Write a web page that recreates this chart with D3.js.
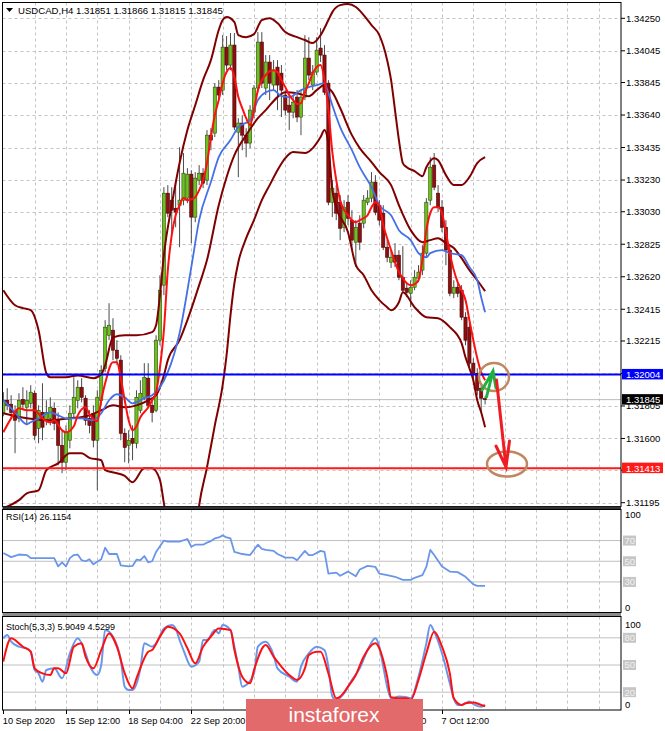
<!DOCTYPE html>
<html><head><meta charset="utf-8">
<script src="https://cdn.jsdelivr.net/npm/d3@7"></script>
<style>body{margin:0;background:#fff;}svg{display:block;}text{font-family:'Liberation Sans',Arial,sans-serif;}</style>
</head><body><svg id="c" width="665" height="731"></svg>
<script>
// ---------- DATA ----------
const symbolTitle = "USDCAD,H4";
const lastOHLC = [1.31851, 1.31866, 1.31815, 1.31845];
const openP = [1.31765,1.31841,1.31816,1.31772,1.31727,1.31847,1.31797,1.31822,1.31885,1.31664,1.31765,1.31715,1.31727,1.31790,1.31715,1.31557,1.31450,1.31589,1.31759,1.31841,1.31923,1.31854,1.31727,1.31759,1.31589,1.31841,1.32043,1.32251,1.32283,1.32157,1.32094,1.31633,1.31557,1.31601,1.31570,1.31778,1.31860,1.31980,1.31809,1.31778,1.32220,1.32567,1.33147,1.33103,1.33052,1.33071,1.33103,1.33116,1.33267,1.32996,1.33229,1.33273,1.33229,1.33513,1.33526,1.33816,1.33797,1.34068,1.33955,1.34081,1.33532,1.33589,1.33513,1.33463,1.33658,1.33810,1.34100,1.33810,1.33974,1.33829,1.33942,1.33904,1.33766,1.33702,1.33658,1.33753,1.33627,1.33753,1.33999,1.33829,1.33911,1.34062,1.34018,1.33841,1.33090,1.33147,1.33090,1.32932,1.33090,1.32977,1.32838,1.32958,1.32958,1.33090,1.33116,1.33217,1.33071,1.33021,1.32806,1.32712,1.32756,1.32756,1.32617,1.32548,1.32516,1.32554,1.32611,1.32662,1.32769,1.33103,1.33324,1.33147,1.33059,1.32932,1.32788,1.32516,1.32554,1.32535,1.32365,1.32302,1.32075,1.32011,1.31917,1.31851];
const highP = [1.31892,1.31917,1.31873,1.31809,1.31885,1.31923,1.31904,1.31936,1.31904,1.31809,1.31948,1.31841,1.31860,1.31828,1.31765,1.31652,1.31683,1.31809,1.31986,1.31967,1.31980,1.31873,1.31778,1.31809,1.31904,1.32062,1.32346,1.32453,1.32358,1.32220,1.32125,1.31664,1.31652,1.31683,1.31904,1.31967,1.32075,1.32075,1.31854,1.32251,1.32630,1.33185,1.33198,1.33185,1.33229,1.33437,1.33400,1.33305,1.33292,1.33280,1.33324,1.33305,1.33545,1.33557,1.33841,1.33860,1.34144,1.34138,1.34157,1.34157,1.33620,1.33639,1.33557,1.33702,1.33829,1.34163,1.34163,1.34018,1.34018,1.33986,1.33986,1.33955,1.33797,1.33766,1.33766,1.33797,1.33797,1.34144,1.34131,1.33955,1.34131,1.34188,1.34081,1.33860,1.33229,1.33198,1.33135,1.33103,1.33135,1.33040,1.32977,1.33008,1.33135,1.33166,1.33280,1.33261,1.33103,1.33071,1.32851,1.32788,1.32832,1.32788,1.32813,1.32579,1.32598,1.32662,1.32693,1.32819,1.33116,1.33374,1.33400,1.33198,1.33103,1.32977,1.32819,1.32598,1.32579,1.32567,1.32396,1.32333,1.32106,1.32043,1.31942,1.31866];
const lowP = [1.31740,1.31778,1.31727,1.31507,1.31702,1.31778,1.31683,1.31790,1.31589,1.31570,1.31589,1.31683,1.31683,1.31652,1.31431,1.31381,1.31400,1.31538,1.31727,1.31790,1.31828,1.31683,1.31633,1.31544,1.31273,1.31809,1.32018,1.32220,1.32094,1.32062,1.31589,1.31450,1.31443,1.31463,1.31538,1.31759,1.31841,1.31790,1.31702,1.31765,1.32188,1.32504,1.32996,1.32895,1.32932,1.32806,1.33071,1.33084,1.32832,1.32964,1.33198,1.33179,1.33198,1.33418,1.33501,1.33734,1.33766,1.33923,1.33923,1.33545,1.33248,1.33418,1.33374,1.33431,1.33620,1.33784,1.33810,1.33766,1.33734,1.33797,1.33671,1.33627,1.33639,1.33545,1.33620,1.33595,1.33513,1.33734,1.33860,1.33797,1.33892,1.33974,1.33766,1.33071,1.32996,1.32977,1.32851,1.32901,1.32945,1.32788,1.32681,1.32788,1.32926,1.33071,1.33090,1.33008,1.32945,1.32788,1.32712,1.32675,1.32681,1.32598,1.32516,1.32491,1.32428,1.32535,1.32586,1.32630,1.32743,1.33071,1.33166,1.33027,1.32901,1.32693,1.32497,1.32485,1.32491,1.32346,1.32188,1.32030,1.31936,1.31873,1.31765,1.31815];
const closeP = [1.31841,1.31809,1.31765,1.31715,1.31841,1.31816,1.31841,1.31892,1.31620,1.31778,1.31671,1.31765,1.31797,1.31696,1.31557,1.31450,1.31639,1.31759,1.31860,1.31923,1.31860,1.31715,1.31683,1.31589,1.31860,1.32030,1.32302,1.32314,1.32157,1.32106,1.31633,1.31544,1.31589,1.31570,1.31860,1.31885,1.31986,1.31809,1.31765,1.32220,1.32535,1.33147,1.33021,1.33040,1.33027,1.33103,1.33273,1.33267,1.32996,1.33242,1.33273,1.33210,1.33513,1.33482,1.33816,1.33766,1.34068,1.33955,1.34081,1.33564,1.33589,1.33513,1.33463,1.33671,1.33810,1.34100,1.33841,1.33974,1.33841,1.33923,1.33829,1.33797,1.33671,1.33658,1.33721,1.33627,1.33753,1.33999,1.33892,1.33911,1.34049,1.34018,1.33784,1.33090,1.33179,1.33021,1.32926,1.33059,1.32989,1.32851,1.32932,1.32838,1.33103,1.33116,1.33217,1.33027,1.32977,1.32806,1.32743,1.32743,1.32712,1.32617,1.32535,1.32522,1.32554,1.32617,1.32649,1.32769,1.33090,1.33311,1.33185,1.33059,1.32932,1.32788,1.32516,1.32554,1.32516,1.32365,1.32220,1.32075,1.32011,1.31904,1.31854,1.31845];

const maFastIdx = [0,2,4,6,8,10,12,13,15,16,18,19,21,22,24,25,26,28,29,30,31,32,33,34,35,37,38,39,40,41,42,43,44,45,46,47,48,49,50,51,52,53,54,55,56,57,58,59,60,61,62,63,64,65,66,67,68,69,70,71,72,73,74,75,76,77,78,79,80,81,82,83,84,85,86,87,88,89,90,91,92,93,94,95,96,97,98,99,100,101,102,103,104,105,106,107,108,109,110,111,112,113,114,115,116,117,118,119,120,121,122,123];
const maFastVal = [1.31639,1.31727,1.31790,1.31778,1.31778,1.31727,1.31702,1.31715,1.31652,1.31639,1.31677,1.31746,1.31797,1.31753,1.31709,1.31841,1.31948,1.32081,1.32081,1.31980,1.31841,1.31715,1.31652,1.31677,1.31734,1.31797,1.31841,1.31892,1.32049,1.32283,1.32662,1.32882,1.33008,1.33071,1.33116,1.33103,1.33109,1.33122,1.33166,1.33229,1.33337,1.33501,1.33639,1.33734,1.33841,1.33911,1.33936,1.33879,1.33753,1.33684,1.33620,1.33576,1.33671,1.33797,1.33860,1.33892,1.33917,1.33923,1.33911,1.33860,1.33816,1.33766,1.33734,1.33709,1.33715,1.33784,1.33841,1.33904,1.33942,1.33955,1.33860,1.33671,1.33406,1.33229,1.33103,1.33040,1.33008,1.32977,1.32964,1.32977,1.32989,1.33008,1.33059,1.33090,1.33071,1.32945,1.32863,1.32788,1.32712,1.32649,1.32611,1.32579,1.32567,1.32573,1.32598,1.32725,1.32914,1.33021,1.33059,1.33059,1.33021,1.32901,1.32769,1.32662,1.32586,1.32535,1.32473,1.32346,1.32220,1.32106,1.32018,1.31967];

const maSlowIdx = [0,3,6,7,9,12,14,16,20,23,25,27,29,31,33,36,38,40,42,45,48,50,53,55,58,60,63,65,67,69,71,73,76,78,80,82,83,84,86,89,91,94,96,99,101,104,106,108,109,112,114,117,119,121,122,123];
const maSlowVal = [1.31841,1.31765,1.31690,1.31702,1.31727,1.31765,1.31746,1.31727,1.31727,1.31715,1.31759,1.31841,1.31879,1.31860,1.31822,1.31854,1.31873,1.31923,1.32018,1.32264,1.32681,1.32977,1.33217,1.33374,1.33482,1.33564,1.33608,1.33734,1.33784,1.33797,1.33759,1.33753,1.33797,1.33816,1.33829,1.33841,1.33778,1.33702,1.33564,1.33418,1.33311,1.33185,1.33071,1.33008,1.32914,1.32851,1.32769,1.32743,1.32769,1.32788,1.32769,1.32756,1.32681,1.32598,1.32491,1.32396];

const bbMidIdx = [0,6,12,17,22,25,28,31,34,37,39,41,42,45,47,50,52,55,57,59,62,65,67,70,72,75,78,80,82,83,84,86,89,91,94,96,99,101,104,107,109,111,113,115,117,119,121,123];
const bbMidVal = [1.31759,1.31727,1.31715,1.31727,1.31746,1.31778,1.31809,1.31797,1.31809,1.31841,1.31873,1.31998,1.32094,1.32220,1.32346,1.32567,1.32725,1.33071,1.33248,1.33387,1.33513,1.33620,1.33671,1.33753,1.33784,1.33778,1.33759,1.33797,1.33829,1.33810,1.33784,1.33684,1.33513,1.33431,1.33343,1.33280,1.33198,1.33071,1.32914,1.32838,1.32851,1.32863,1.32832,1.32801,1.32737,1.32662,1.32598,1.32529];

const bbUpIdx = [0,3,5,7,9,11,12,16,19,23,25,26,28,31,34,38,39,40,41,43,45,47,49,51,53,55,56,57,59,60,62,64,66,68,70,72,75,77,79,81,83,84,86,88,90,92,94,96,98,99,100,101,102,103,105,107,108,110,111,113,115,117,119,121,123];
const bbUpVal = [1.32535,1.32440,1.32422,1.32409,1.32283,1.32011,1.31986,1.31986,1.31998,1.31980,1.32005,1.32062,1.32238,1.32251,1.32251,1.32271,1.32314,1.32504,1.32756,1.33071,1.33337,1.33545,1.33702,1.33860,1.33986,1.34176,1.34239,1.34258,1.34226,1.34144,1.34131,1.34150,1.34239,1.34251,1.34220,1.34163,1.34131,1.34113,1.34094,1.34144,1.34239,1.34289,1.34333,1.34340,1.34321,1.34270,1.34207,1.34144,1.33986,1.33860,1.33671,1.33482,1.33337,1.33311,1.33286,1.33254,1.33311,1.33368,1.33355,1.33261,1.33198,1.33198,1.33248,1.33337,1.33374];

const bbLoIdx = [0,4,6,9,11,14,17,20,22,25,26,29,31,33,36,38,40,41,42,43,45,47,48,50,52,54,56,57,58,59,60,62,64,66,68,70,72,74,77,79,81,82,83,84,85,88,90,92,94,96,98,99,101,102,105,108,111,114,117,118,119,120,121,122,123];
const bbLoVal = [1.31160,1.31211,1.31254,1.31273,1.31400,1.31443,1.31507,1.31507,1.31478,1.31463,1.31400,1.31381,1.31364,1.31324,1.31412,1.31412,1.31337,1.31191,1.31052,1.30895,1.30705,1.30642,1.30705,1.31178,1.31418,1.31683,1.31936,1.32125,1.32377,1.32579,1.32712,1.32863,1.32977,1.33103,1.33198,1.33292,1.33368,1.33406,1.33400,1.33431,1.33501,1.33545,1.33450,1.33166,1.33059,1.32901,1.32693,1.32630,1.32535,1.32473,1.32428,1.32409,1.32459,1.32522,1.32428,1.32365,1.32358,1.32302,1.32201,1.32112,1.32043,1.31967,1.31841,1.31765,1.31671];

const rsiIdx = [0,2,4,6,7,10,13,14,15,16,17,18,19,20,21,22,23,25,26,27,29,30,32,33,34,35,36,37,38,39,41,42,45,47,48,49,51,52,53,54,55,56,57,58,59,61,63,65,66,67,69,70,72,74,75,77,78,79,81,82,83,85,86,88,90,91,93,95,96,98,100,102,104,105,107,108,109,110,112,114,116,118,120,121,123];
const rsiVal = [58,54,56.5,56,53,53,53,45,49,45,53,56,56.5,51,50,52,47,52,63,57,57,46,45,45.5,51.5,51,55,49,50,59,70,69,69,71.5,64,66,66,68,69.5,72,73,75,73,72,59,57,56,66,62,61,60,57,53.5,53.5,51,60,56,56,60,59,38,39,36,40,35.5,42,45.5,44.5,38,36.5,35,32,32,34,36.5,44.5,61,56,45,40,39.5,35,27.6,26.3,26.1154];
const rsiLevels = [70, 50, 30];

const stKIdx = [0,1,2,4,6,7,8,9,10,11,13,15,17,19,21,22,24,25,26,28,30,31,32,33,35,36,38,39,41,43,44,45,46,48,50,51,52,54,55,56,58,59,60,61,62,64,65,67,69,70,73,75,76,78,80,82,83,84,85,87,89,91,93,95,96,97,98,99,101,103,104,106,108,109,110,112,114,115,116,117,119,120,122,123];
const stKVal = [79.4,83.1,75.7,70.2,68.4,64.7,44.5,40.8,31.6,44.5,46.3,35.3,62.9,79.4,62.9,50,39,50,88.6,81.3,55.5,26.1,22.4,22.4,46.3,73.9,70.2,73.9,90.4,94.1,90.4,77.6,66.5,48.2,53.7,77.6,77.6,88.6,84.9,94.1,88.6,70.2,48.2,26.1,27.9,40.8,70.2,75.7,61,46.3,37.1,31.6,48.2,62.9,70.2,66.5,48.2,15.1,11.4,18.8,33.5,46.3,66.5,79.4,70.2,48.2,26.1,13.2,15.1,14.3,13.2,37.1,73.9,94.1,86.8,62.9,29.8,13.2,5.9,5.9,9.6,7,4,5.9049];
const stDIdx = [0,2,4,5,7,8,10,12,13,14,16,18,20,21,23,25,27,29,31,33,34,37,38,40,42,45,47,49,51,53,55,58,59,61,63,64,67,69,71,73,75,77,78,80,81,83,85,86,88,90,92,95,96,98,99,101,103,104,106,108,110,112,114,115,117,118,120,122,123];
const stDVal = [53.7,79.4,73.9,70.2,64.7,46.3,40.8,39,46.3,46.3,40.8,70.2,73.9,59.2,46.3,66.5,84.9,70.2,40.8,24.3,35.3,64.7,66.5,81.3,92.3,84.9,68.4,51.8,70.2,81.3,90.4,88.6,66.5,37.1,29.8,44.5,72.1,59.2,48.2,39,33.5,46.3,61,64.7,64.7,40.8,13.2,15.1,26.1,39,59.2,73.9,68.4,37.1,14.3,13.2,13.2,11.4,33.5,62.9,86.8,70.2,40.8,13.2,5.9,7.7,8.5,5.9,4.5299];
const stLevels = [80, 50, 20];

// price grid levels; the labels of 1.32010 and 1.31400 sit under the line-value boxes
const priceTicks = [1.34250,1.34045,1.33845,1.33640,1.33435,1.33230,1.33030,1.32825,1.32620,1.32415,1.32215,1.32010,1.31805,1.31600,1.31400,1.31195];
const hiddenPriceLabels = [1.32010, 1.31400];
const resistance = 1.32004, support = 1.31413;
const timeTickIdx = [0,16,32,48,64,80,96,112];
// labels visible in the picture (the two in between are covered by the watermark)
const timeLabelIdx = [0,16,32,48,96,112];
const timeLabels = ["10 Sep 2020","15 Sep 12:00","18 Sep 04:00","22 Sep 20:00","2 Oct 20:00","7 Oct 12:00"];

// ---------- LAYOUT ----------
const svg = d3.select('#c');
const PL = 2.5, PR = 621, PT = 2.5, PB = 506.5;
const RT = 509.5, RB = 612.5, ST = 616.5, SB = 710;
const x = d3.scaleLinear().domain([0, 100]).range([3.3, 3.3 + 100 * 3.917]);
const y = d3.scaleLinear().domain([1.34250, 1.31195]).range([18.3, 502.7]);
const yR = d3.scaleLinear().domain([0, 100]).range([613, 509.5]);
const yS = d3.scaleLinear().domain([0, 100]).range([710.3, 619.7]);
const fmt = d3.format('.5f');
const GRID = '#c4c4c4';
const fs = '9.5px';

svg.append('rect').attr('width', 665).attr('height', 731).attr('fill', '#fff');
const defs = svg.append('defs');
function clip(id, y0, y1) {
  defs.append('clipPath').attr('id', id).append('rect')
    .attr('x', PL).attr('y', y0).attr('width', PR - PL).attr('height', y1 - y0);
}
clip('cm', PT, PB); clip('cr', RT, RB); clip('cs', ST, SB);

const vGrid = d3.range(8, 160, 8).filter(i => x(i) < PR - 1);

// ---------- MAIN PANEL ----------
const gm = svg.append('g').attr('clip-path', 'url(#cm)');
gm.selectAll('.hg').data(priceTicks).join('line')
  .attr('x1', PL).attr('x2', PR).attr('y1', d => Math.round(y(d)) + 0.5).attr('y2', d => Math.round(y(d)) + 0.5)
  .attr('stroke', GRID).attr('stroke-dasharray', '3,3');
gm.selectAll('.vg').data(vGrid).join('line')
  .attr('x1', d => Math.round(x(d)) + 0.5).attr('x2', d => Math.round(x(d)) + 0.5).attr('y1', PT).attr('y2', PB)
  .attr('stroke', GRID).attr('stroke-dasharray', '3,3');
gm.append('line').attr('x1', PL).attr('x2', PR).attr('y1', y(lastOHLC[3])).attr('y2', y(lastOHLC[3]))
  .attr('stroke', '#bdbdbd').attr('stroke-width', 1);

const bars = d3.range(closeP.length).map(i => ({i, o: openP[i], h: highP[i], l: lowP[i], c: closeP[i]}));
gm.selectAll('.wk').data(bars).join('line')
  .attr('x1', d => x(d.i)).attr('x2', d => x(d.i)).attr('y1', d => y(d.h)).attr('y2', d => y(d.l))
  .attr('stroke', '#4a4a4a').attr('stroke-width', 1);
gm.selectAll('.bd').data(bars).join('rect')
  .attr('x', d => x(d.i) - 1.6).attr('width', 3.2)
  .attr('y', d => y(Math.max(d.o, d.c))).attr('height', d => Math.max(1, Math.abs(y(d.o) - y(d.c))))
  .attr('fill', d => d.c >= d.o ? '#6cc21c' : '#8e0f0f')
  .attr('stroke', d => d.c >= d.o ? '#2f4a10' : '#4d0000').attr('stroke-width', 0.6);

function series(g, idx, val, ys, color, w, curve) {
  const pts = d3.zip(idx, val);
  g.append('path').datum(pts)
    .attr('d', d3.line().x(d => x(d[0])).y(d => ys(d[1])).curve(curve || d3.curveMonotoneX))
    .attr('fill', 'none').attr('stroke', color).attr('stroke-width', w)
    .attr('stroke-linejoin', 'round');
}
series(gm, bbUpIdx, bbUpVal, y, '#800000', 2);
series(gm, bbLoIdx, bbLoVal, y, '#800000', 2);
series(gm, bbMidIdx, bbMidVal, y, '#800000', 2);
series(gm, maSlowIdx, maSlowVal, y, '#4670e6', 1.8);
series(gm, maFastIdx, maFastVal, y, '#ff1010', 2);

gm.append('line').attr('x1', PL).attr('x2', PR).attr('y1', y(resistance)).attr('y2', y(resistance))
  .attr('stroke', '#0000ff').attr('stroke-width', 2);
gm.append('line').attr('x1', PL).attr('x2', PR).attr('y1', y(support)).attr('y2', y(support))
  .attr('stroke', '#ff1a1a').attr('stroke-width', 2);

const ann = svg.append('g').attr('fill', 'none').attr('stroke-linecap', 'round');
ann.append('ellipse').attr('cx', 494).attr('cy', 377).attr('rx', 15).attr('ry', 14)
  .attr('stroke', '#c0875f').attr('stroke-width', 2.5);
ann.append('ellipse').attr('cx', 507).attr('cy', 464).attr('rx', 20).attr('ry', 12.5)
  .attr('stroke', '#c0875f').attr('stroke-width', 2.5);
ann.append('path').attr('d', 'M486.5,397 L493,371 M482,390 L493,371 L496,388')
  .attr('stroke', '#20b040').attr('stroke-width', 3);
ann.append('path').attr('d', 'M496.5,380 L506,467 M496,446 L506,467 L509.5,441')
  .attr('stroke', '#f01c24').attr('stroke-width', 3);

svg.append('rect').attr('x', PL).attr('y', PT).attr('width', PR - PL).attr('height', PB - PT)
  .attr('fill', 'none').attr('stroke', '#000').attr('stroke-width', 1);

svg.append('path').attr('d', 'M6,8 L13,8 L9.5,12 Z').attr('fill', '#000');
svg.append('text').attr('x', 18).attr('y', 14).attr('font-size', '9.6px').attr('fill', '#000')
  .text(symbolTitle + '  ' + lastOHLC.map(fmt).join(' '));

// price axis
const ax = svg.append('g');
ax.selectAll('.tk').data(priceTicks).join('line')
  .attr('x1', PR).attr('x2', PR + 4).attr('y1', d => y(d)).attr('y2', d => y(d)).attr('stroke', '#000');
ax.selectAll('.tl').data(priceTicks.filter(v => !hiddenPriceLabels.includes(v))).join('text')
  .attr('x', 626).attr('y', d => y(d) + 3.4).attr('font-size', fs).attr('fill', '#000').text(fmt);
function priceBox(v, bg) {
  const yy = y(v);
  ax.append('rect').attr('x', PR + 1).attr('y', yy - 5.5).attr('width', 41).attr('height', 10.5).attr('fill', bg);
  ax.append('text').attr('x', 626).attr('y', yy + 3.4).attr('font-size', fs).attr('fill', '#fff').text(fmt(v));
}
priceBox(resistance, '#0000ff');
priceBox(lastOHLC[3], '#000');
priceBox(support, '#ff1a1a');

svg.append('rect').attr('x', PL).attr('y', PB).attr('width', PR - PL).attr('height', RT - PB).attr('fill', '#333');
svg.append('rect').attr('x', PL).attr('y', RB).attr('width', PR - PL).attr('height', ST - RB).attr('fill', '#8a8a8a');

// ---------- RSI PANEL ----------
const gr = svg.append('g').attr('clip-path', 'url(#cr)');
gr.selectAll('.vg').data(vGrid).join('line')
  .attr('x1', d => Math.round(x(d)) + 0.5).attr('x2', d => Math.round(x(d)) + 0.5).attr('y1', RT).attr('y2', RB)
  .attr('stroke', GRID).attr('stroke-dasharray', '3,3');
gr.selectAll('.lv').data(rsiLevels).join('line')
  .attr('x1', PL).attr('x2', PR).attr('y1', d => yR(d)).attr('y2', d => yR(d)).attr('stroke', '#c0c0c0');
series(gr, rsiIdx, rsiVal, yR, '#6a96ea', 1.8, d3.curveLinear);
svg.append('rect').attr('x', PL).attr('y', RT).attr('width', PR - PL).attr('height', RB - RT)
  .attr('fill', 'none').attr('stroke', '#000');
svg.append('text').attr('x', 6).attr('y', 520).attr('font-size', '9px').text('RSI(14) ' + rsiVal[rsiVal.length - 1].toFixed(4));
svg.append('text').attr('x', 625).attr('y', 518).attr('font-size', fs).text('100');
svg.append('text').attr('x', 625).attr('y', 611).attr('font-size', fs).text('0');

function levelBox(v, ys) {
  const yy = ys(v);
  svg.append('rect').attr('x', 623).attr('y', yy - 5).attr('width', 13).attr('height', 10).attr('fill', '#c6c6c6');
  svg.append('text').attr('x', 624.5).attr('y', yy + 3.4).attr('font-size', fs).attr('fill', '#f2f2f2').text(v);
}
rsiLevels.forEach(v => levelBox(v, yR));

// ---------- STOCH PANEL ----------
const gs = svg.append('g').attr('clip-path', 'url(#cs)');
gs.selectAll('.vg').data(vGrid).join('line')
  .attr('x1', d => Math.round(x(d)) + 0.5).attr('x2', d => Math.round(x(d)) + 0.5).attr('y1', ST).attr('y2', SB)
  .attr('stroke', GRID).attr('stroke-dasharray', '3,3');
gs.selectAll('.lv').data(stLevels).join('line')
  .attr('x1', PL).attr('x2', PR).attr('y1', d => yS(d)).attr('y2', d => yS(d)).attr('stroke', '#c0c0c0');
series(gs, stKIdx, stKVal, yS, '#6a96ea', 2);
series(gs, stDIdx, stDVal, yS, '#ff1010', 2);
svg.append('rect').attr('x', PL).attr('y', ST).attr('width', PR - PL).attr('height', SB - ST)
  .attr('fill', 'none').attr('stroke', '#000');
svg.append('text').attr('x', 6).attr('y', 630).attr('font-size', '9px')
  .text('Stoch(5,3,3) ' + stKVal[stKVal.length - 1].toFixed(4) + ' ' + stDVal[stDVal.length - 1].toFixed(4));
svg.append('text').attr('x', 625).attr('y', 628).attr('font-size', fs).text('100');
svg.append('text').attr('x', 625).attr('y', 708).attr('font-size', fs).text('0');
stLevels.forEach(v => levelBox(v, yS));

// ---------- TIME AXIS ----------
const tg = svg.append('g');
tg.selectAll('.tt').data(timeTickIdx).join('line')
  .attr('x1', d => Math.round(x(d)) + 0.5).attr('x2', d => Math.round(x(d)) + 0.5).attr('y1', SB).attr('y2', SB + 4)
  .attr('stroke', '#000');
tg.selectAll('.tx').data(timeLabelIdx).join('text')
  .attr('x', d => x(d) - 0.5).attr('y', 724).attr('font-size', '9.2px').attr('fill', '#000')
  .text((d, k) => timeLabels[k]);

// ---------- WATERMARK ----------
svg.append('rect').attr('x', 246).attr('y', 699).attr('width', 177).attr('height', 32).attr('fill', '#e26a6a');
svg.append('text').attr('x', 334).attr('y', 722).attr('text-anchor', 'middle')
  .attr('font-size', '21px').attr('fill', '#fff').text('instaforex');
</script></body></html>
